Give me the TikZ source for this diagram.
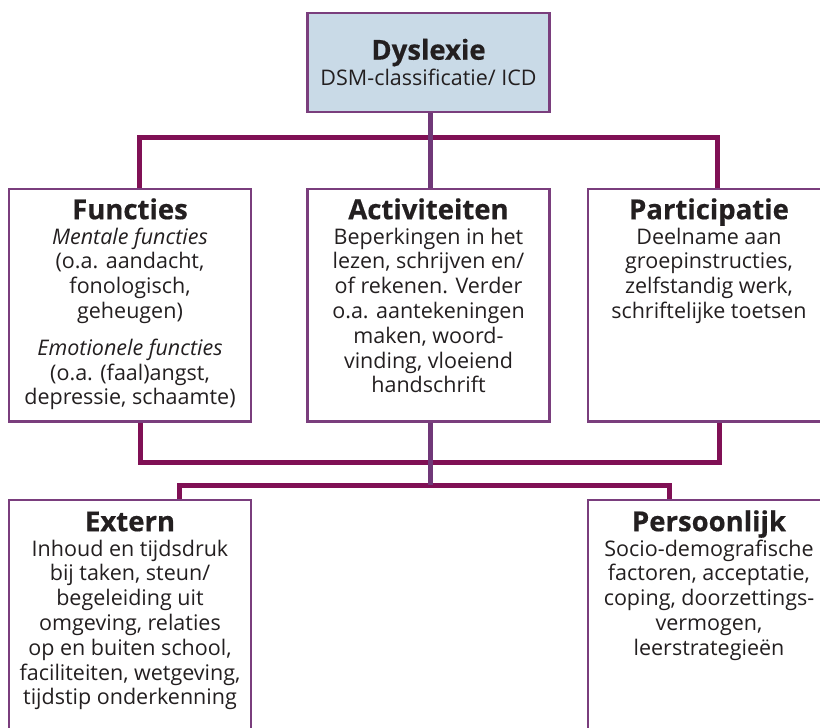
\documentclass[tikz,border=0pt]{standalone}
\usepackage{fontspec}
\setmainfont{Open Sans}[BoldFeatures={FakeBold=0.5}]
\usetikzlibrary{calc}
\definecolor{boxc}{RGB}{122,62,125}
\definecolor{magc}{RGB}{128,16,85}
\definecolor{purc}{RGB}{112,56,120}
\definecolor{topfill}{RGB}{201,218,231}
\definecolor{txt}{RGB}{35,31,32}
\newcommand{\boxtitle}[1]{{\fontsize{27.5}{24.7}\selectfont\bfseries\rule{0pt}{21pt}#1}}
\pgfdeclarelayer{bg}
\pgfsetlayers{bg,main}
\begin{document}
\begin{tikzpicture}[x=1pt,y=-1pt,
  box/.style={draw=boxc, line width=2.8pt, minimum width=242pt, anchor=north west, inner sep=0pt, outer sep=0pt, fill=white},
  conn/.style={draw=magc, line width=5pt},
  connp/.style={draw=purc, line width=5pt},
  txtnode/.style={anchor=north, align=center, inner sep=0pt, text=txt, font=\fontsize{21.5}{24.8}\selectfont}]
\clip (0,0) rectangle (820,728);
\useasboundingbox (0,0) rectangle (820,728);

% boxes
\node[box, fill=topfill, minimum height=99pt] (top) at (307.5,13) {};
\node[box, minimum height=232.5pt] (funct) at (9,189) {};
\node[box, minimum height=232.5pt] (activ) at (307.5,189) {};
\node[box, minimum height=232.5pt] (partic) at (588,189) {};
\node[box, minimum height=260pt] (extern) at (9,500) {};
\node[box, minimum height=260pt] (pers) at (588,500) {};

% texts
\node[txtnode] (toptxt) at ($(top.north)+(0,25.5)$) {\boxtitle{Dyslexie}\\[1pt]DSM-classificatie/ ICD};
\node[txtnode] (functtxt) at ($(funct.north)+(0,9)$) {\boxtitle{Functies}\\\textit{Mentale functies}\\(o.a. aandacht,\\fonologisch,\\geheugen)\\[12pt]\textit{Emotionele functies}\\(o.a. (faal)angst,\\depressie, schaamte)};
\node[txtnode] (activtxt) at ($(activ.north)+(0,9)$) {\boxtitle{Activiteiten}\\Beperkingen in het\\lezen, schrijven en/\\of rekenen. Verder\\o.a. aantekeningen\\maken, woord-\\vinding, vloeiend\\handschrift};
\node[txtnode] (partictxt) at ($(partic.north)+(0,9)$) {\boxtitle{Participatie}\\Deelname aan\\groepinstructies,\\zelfstandig werk,\\schriftelijke toetsen};
\node[txtnode] (externtxt) at ($(extern.north)+(0,10)$) {\boxtitle{Extern}\\Inhoud en tijdsdruk\\bij taken, steun/\\begeleiding uit\\omgeving, relaties\\op en buiten school,\\faciliteiten, wetgeving,\\tijdstip onderkenning};
\node[txtnode] (perstxt) at ($(pers.north)+(0,10)$) {\boxtitle{Persoonlijk}\\Socio-demografische\\factoren, acceptatie,\\coping, doorzettings-\\vermogen,\\leerstrategieën};

% connectors
\coordinate (a1) at (139.5,137.5);
\coordinate (a2) at (717,137.5);
\coordinate (b1) at (140,462);
\coordinate (b2) at (719.5,462);
\coordinate (c1) at (179.5,485);
\coordinate (c2) at (669.5,485);
\coordinate (v) at (430,0);
\begin{pgfonlayer}{bg}
\draw[conn] (funct.north -| a1) -- (a1) -- (a2) -- (partic.north -| a2);
\draw[conn] (funct.south -| b1) -- (b1) -- (b2) -- (partic.south -| b2);
\draw[conn] (extern.north -| c1) -- (c1) -- (c2) -- (pers.north -| c2);
\draw[connp] (top.south -| v) -- (activ.north -| v);
\draw[connp] (activ.south -| v) -- (c1 -| v);
\end{pgfonlayer}
\end{tikzpicture}
\end{document}
